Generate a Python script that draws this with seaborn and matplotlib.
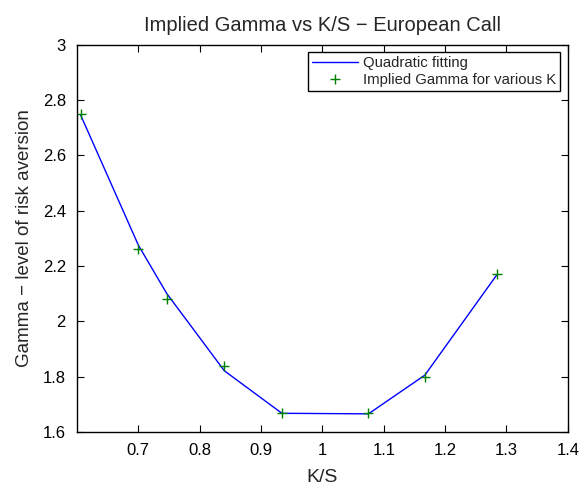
import matplotlib
matplotlib.use("Agg")
import matplotlib.pyplot as plt
import seaborn as sns
import pandas as pd

# Data
ks = [0.606, 0.700, 0.746, 0.840, 0.934, 1.075, 1.167, 1.285]
gamma_implied = [2.749, 2.260, 2.079, 1.839, 1.669, 1.668, 1.799, 2.170]
gamma_fit = [2.745, 2.275, 2.101, 1.821, 1.667, 1.665, 1.805, 2.170]
x_ticks = [0.7, 0.8, 0.9, 1.0, 1.1, 1.2, 1.3, 1.4]
x_tick_labels = ["0.7", "0.8", "0.9", "1", "1.1", "1.2", "1.3", "1.4"]
y_ticks = [1.6, 1.8, 2.0, 2.2, 2.4, 2.6, 2.8, 3.0]
y_tick_labels = ["1.6", "1.8", "2", "2.2", "2.4", "2.6", "2.8", "3"]

sns.set_style("ticks")
plt.rcParams['font.family'] = ['Liberation Sans', 'DejaVu Sans']

df = pd.DataFrame({"ks": ks, "fit": gamma_fit, "imp": gamma_implied})

fig = plt.figure(figsize=(5.8, 4.87), dpi=100)
ax = fig.add_axes([0.1328, 0.1133, 0.8462, 0.7949])

sns.lineplot(data=df, x="ks", y="fit", ax=ax, color=(0, 0, 1), lw=1.0,
             label="Quadratic fitting", sort=False)
ax.plot(df["ks"], df["imp"], linestyle="none", marker="+", color=(0, 0.5, 0),
        markersize=7, markeredgewidth=1.0, label="Implied Gamma for various K")

ax.set_xlim(0.6, 1.4)
ax.set_ylim(1.6, 3.0)
ax.set_xticks(x_ticks)
ax.set_xticklabels(x_tick_labels)
ax.set_yticks(y_ticks)
ax.set_yticklabels(y_tick_labels)
ax.tick_params(direction="in", top=True, right=True, length=5, width=0.8,
               labelsize=12, pad=8, colors="black")
for s in ax.spines.values():
    s.set_visible(True)
    s.set_linewidth(1.0)
    s.set_color("black")

ax.set_xlabel("K/S", fontsize=14, labelpad=8)
ax.set_ylabel("Gamma \u2212 level of risk aversion", fontsize=13.5, labelpad=7)
ax.set_title("Implied Gamma vs K/S \u2212 European Call", fontsize=14.5, pad=10)

leg = ax.legend(loc="upper right", fontsize=10.7, frameon=True, fancybox=False,
                borderaxespad=0.5, handlelength=3.1, borderpad=0.25,
                labelspacing=0.2, handletextpad=0.35)
leg.get_frame().set_edgecolor("black")
leg.get_frame().set_linewidth(1.0)
leg.get_frame().set_alpha(1.0)

fig.savefig("out.png", dpi=100)
